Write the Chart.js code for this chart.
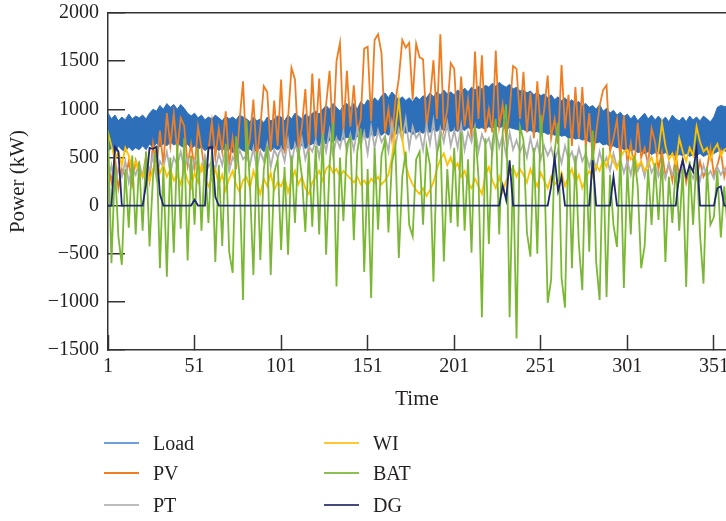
<!DOCTYPE html>
<html>
<head>
<meta charset="utf-8">
<script src="https://cdn.jsdelivr.net/npm/chart.js@4.4.1/dist/chart.umd.min.js"></script>
<style>
  html, body { margin: 0; padding: 0; background: #fff; }
  #wrap { position: relative; width: 726px; height: 521px; overflow: hidden; }
  #legend { position: absolute; left: 0; top: 0; font-family: "Liberation Serif", serif; font-size: 20px; color: #231f20; }
  .item { position: absolute; height: 24px; line-height: 24px; white-space: nowrap; }
  .item i { position: absolute; left: 0; top: 11px; width: 35px; height: 2px; }
  .item span { position: absolute; left: 49px; top: 0; }
</style>
</head>
<body>
<div id="wrap">
  <canvas id="chart" width="726" height="521"></canvas>
  <div id="legend"></div>
</div>
<script>
// one value every second day, starting at day 1
const firstDay = 1;
const dayStep = 2;

const xTicks = [1, 51, 101, 151, 201, 251, 301, 351];
const yTicks = [-1500, -1000, -500, 0, 500, 1000, 1500, 2000];

// load varies within the day, kept as daily max / min
const loadHigh = [
  960, 900, 940, 880, 920, 890, 950, 900, 930, 910,
  940, 900, 960, 1000, 980, 1040, 1000, 1060, 1020, 1050,
  1000, 1050, 1010, 960, 930, 960, 910, 940, 890, 920,
  900, 940, 910, 880, 930, 900, 920, 890, 940, 920,
  900, 870, 920, 880, 900, 860, 920, 880, 900, 930,
  920, 880, 940, 900, 960, 930, 900, 950, 920, 960,
  980, 950, 1000, 1040, 1000, 1060, 1020, 980, 1040, 1060,
  1020, 1060, 1000, 1080, 1040, 1100, 1060, 1120, 1080, 1140,
  1170, 1120, 1180, 1140, 1100, 1130, 1090, 1120, 1080, 1130,
  1100, 1140, 1120, 1170, 1130, 1180, 1150, 1200, 1160, 1180,
  1150, 1200, 1170, 1220, 1180, 1230, 1200, 1240, 1210, 1250,
  1230, 1270, 1240, 1280, 1250, 1230, 1260, 1210, 1230, 1190,
  1200, 1170, 1190, 1150, 1180, 1140, 1160, 1120, 1150, 1100,
  1130, 1090, 1120, 1070, 1100, 1060, 1080, 1040, 1060, 1020,
  1040, 1000, 1050, 980, 1010, 960, 990, 940, 970, 920,
  950, 900, 940, 880, 920, 960, 900, 940, 890, 930,
  880, 920, 870, 940, 900, 880, 920, 870, 930, 890,
  920, 880, 930, 900, 870, 920, 1020, 1040, 1030, 1030
];
const loadLow = [
  560, 600, 540, 620, 580, 560, 610, 570, 600, 580,
  620, 580, 640, 600, 650, 610, 640, 620, 660, 630,
  650, 620, 600, 640, 590, 620, 580, 610, 570, 600,
  580, 610, 570, 600, 560, 590, 550, 580, 600, 570,
  560, 590, 550, 580, 600, 560, 590, 570, 600, 580,
  600, 570, 610, 580, 620, 600, 630, 590, 620, 640,
  650, 620, 670, 640, 680, 660, 700, 670, 690, 710,
  700, 680, 720, 690, 730, 700, 740, 720, 750, 730,
  760, 730, 770, 740, 760, 780, 750, 770, 740, 760,
  770, 750, 780, 760, 790, 770, 800, 780, 790, 770,
  790, 770, 800, 780, 810, 790, 820, 800, 810, 790,
  820, 800, 830, 810, 820, 790, 810, 800, 790, 780,
  790, 770, 780, 760, 770, 750, 760, 740, 750, 730,
  740, 720, 730, 700, 710, 690, 700, 680, 690, 660,
  670, 650, 660, 630, 640, 610, 620, 600, 610, 580,
  590, 570, 580, 550, 560, 540, 560, 530, 550, 540,
  530, 550, 520, 540, 510, 530, 520, 540, 510, 530,
  520, 540, 510, 530, 520, 540, 560, 580, 570, 560
];
const pv = [
  420, 250, 500, 180, 380, 300, 460, 220, 470, 350,
  300, 520, 260, 640, 380, 780, 420, 960, 620, 950,
  560, 910, 830, 420, 640, 380, 820, 600, 320, 560,
  870, 500, 800, 560, 980, 420, 700, 380, 880, 1290,
  520, 700, 1100, 480, 820, 1240, 1180, 560, 1090, 620,
  1310, 540, 900, 1430, 1310, 600, 820, 1210, 560, 1370,
  700, 1320, 640, 1050, 1400, 700, 1500, 1690, 760, 1400,
  820, 1250, 760, 900, 1630, 1650, 880, 1720, 1780, 1580,
  760, 1000, 700, 1080, 1320, 1720, 1640, 1690, 1100, 1680,
  1540, 1520, 820, 1100, 1510, 900, 1780, 800, 1000, 1480,
  1420, 780, 1340, 820, 1100, 700, 1600, 900, 1560, 760,
  1000, 760, 1610, 820, 1050, 700, 980, 1450, 1420, 900,
  1390, 760, 1170, 700, 1290, 760, 1000, 1350, 700, 900,
  640, 1460, 800, 1150, 620, 1230, 700, 1230, 600, 960,
  480, 760, 1035, 1200, 1250, 560, 700, 890, 480, 940,
  420, 650, 380, 860, 500, 600, 420, 800, 660, 380,
  560, 300, 440, 260, 520, 300, 480, 240, 420, 360,
  280, 460, 300, 380, 600, 320, 420, 560, 300, 460
];
const pt = [
  260, 420, 180, 380, 300, 460, 240, 400, 320, 440,
  300, 480, 360, 520, 280, 460, 400, 560, 340, 500,
  420, 560, 380, 500, 300, 480, 420, 360, 520, 400,
  460, 380, 540, 420, 600, 360, 500, 440, 580, 480,
  520, 420, 600, 380, 560, 460, 640, 400, 580, 500,
  600, 460, 680, 420, 640, 520, 700, 480, 620, 560,
  680, 500, 720, 560, 780, 520, 700, 600, 760, 560,
  740, 580, 800, 620, 760, 540, 820, 600, 780, 660,
  720, 560, 860, 620, 800, 680, 900, 600, 820, 700,
  760, 580, 840, 640, 880, 560, 800, 660, 860, 620,
  780, 600, 840, 580, 760, 660, 820, 560, 740, 640,
  700, 540, 780, 600, 720, 520, 760, 580, 680, 560,
  640, 500, 700, 540, 660, 480, 620, 520, 600, 460,
  580, 440, 620, 480, 560, 420, 600, 460, 540, 400,
  520, 380, 560, 420, 500, 360, 540, 400, 480, 340,
  460, 320, 500, 360, 440, 300, 480, 340, 420, 300,
  400, 280, 440, 320, 380, 260, 420, 300, 360, 280,
  380, 260, 420, 300, 360, 280, 400, 320, 380, 300
];
const wi = [
  760, 620, 480, 560, 420, 600, 520, 380, 460, 340,
  300, 420, 260, 380, 460, 340, 420, 300, 380, 260,
  320, 220, 380, 260, 180, 340, 240, 420, 300, 200,
  280, 380, 220, 320, 160, 280, 360, 220, 140, 260,
  300, 180, 360, 240, 120, 280, 200, 340, 160, 240,
  200, 300, 140, 260, 360, 220, 300, 180, 120, 240,
  300, 360, 260, 380, 420, 340, 380, 300, 360, 320,
  280, 240, 300, 220, 260, 200, 280, 240, 300, 220,
  260, 320, 500, 780, 1100, 700, 420, 300, 220, 160,
  120, 180, 100, 160, 240, 380, 480, 540, 420, 500,
  380, 440, 300, 360, 240, 180, 280, 200, 120, 320,
  400, 260, 180, 300, 140, 260, 340, 400, 300, 380,
  320, 240, 380, 280, 200, 340, 260, 180, 300, 220,
  260, 340, 200, 300, 380, 240, 320, 180, 280, 360,
  300, 420, 360, 480, 400, 540, 460, 380, 500, 560,
  580, 480, 520, 400, 460, 360, 420, 500, 380, 560,
  860, 620, 480, 540, 420, 700, 560, 460, 600, 520,
  820, 660, 560, 600, 480, 580, 640, 520, 580, 600
];
const bat = [
  780, -600, 420, -320, -615, 380, -230, 520, -300, 460,
  -260, 560, -425, 300, 620, -650, 400, -740, 500, -490,
  640, -240, 700, -570, 520, -200, 600, -260, 480, -180,
  560, -585, 420, -420, 640, -480, -700, 720, 300, -980,
  890, 200, -720, 560, -565, 380, 620, -720, 340, 480,
  -460, 400, -510, 520, -180, 600, 300, -275, 560, -220,
  620, -300, 740, -510, 420, 860, -840, 500, -160, 640,
  710, -360, 560, 800, -690, 380, -960, 600, -250, 520,
  680, -280, 440, 620, -545, 300, 560, -200, -320, 480,
  560, -200, 610, 420, -790, 540, 700, -580, 380, -180,
  600, -220, 760, -260, 480, -490, 820, 300, -1160, 700,
  -400, 640, 900, -300, 760, 1050, -1160, 420, -1380, 820,
  680, -280, -530, 600, -500, 940, 420, -1010, -770, 560,
  860, -750, -1060, 700, -650, 520, -400, -880, 640, -480,
  780, -585, -980, 600, -950, 320, -200, -430, 560, -855,
  400, -300, 520, 200, -650, -420, 380, -200, 440, -150,
  500, -585, 300, -180, 420, -260, 380, -845, 460, -200,
  520, -300, -810, 400, -200, -120, 360, -330, 200, -250
];
const dg = [
  0, 0, 610, 560, 0, 0, 0, 0, 0, 0,
  0, 220, 600, 590, 610, 120, 0, 0, 0, 0,
  0, 0, 0, 0, 0, 60, 0, 0, 0, 600,
  610, 90, 0, 0, 0, 0, 0, 0, 0, 0,
  0, 0, 0, 0, 0, 0, 0, 0, 0, 0,
  0, 0, 0, 0, 0, 0, 0, 0, 0, 0,
  0, 0, 0, 0, 0, 0, 0, 0, 0, 0,
  0, 0, 0, 0, 0, 0, 0, 0, 0, 0,
  0, 0, 0, 0, 0, 0, 0, 0, 0, 0,
  0, 0, 0, 0, 0, 0, 0, 0, 0, 0,
  0, 0, 0, 0, 0, 0, 0, 0, 0, 0,
  0, 0, 0, 0, 210, 60, 470, 0, 0, 0,
  0, 0, 0, 0, 0, 0, 0, 0, 200, 500,
  150, 300, 0, 0, 0, 0, 0, 0, 0, 0,
  470, 0, 0, 0, 0, 0, 300, 0, 0, 0,
  0, 0, 0, 0, 0, 0, 0, 0, 0, 0,
  0, 0, 0, 0, 0, 330, 470, 300, 420, 350,
  600, 0, 0, 0, 0, 0, 180, 200, 0, 0
];

const colors = {
  load: '#2e6fba',
  pv: '#ef7d22',
  pt: '#b0b0b0',
  wi: '#ffc000',
  bat: '#7ab834',
  dg: '#1f2a6e'
};

const textColor = '#231f20';
const frameColor = '#333333';
const serif = '"Liberation Serif", "Times New Roman", serif';

const pts = arr => arr.map((v, i) => ({ x: firstDay + i * dayStep, y: v }));

function lineSet(label, values, color, order) {
  return {
    label: label,
    data: pts(values),
    borderColor: color,
    backgroundColor: color,
    borderWidth: 1.8,
    fill: false,
    order: order
  };
}

const datasets = [
  { label: 'Load min', data: pts(loadLow), borderColor: colors.load, borderWidth: 1, fill: false, order: 7 },
  { label: 'Load', data: pts(loadHigh), borderColor: colors.load, backgroundColor: colors.load, borderWidth: 1, fill: '-1', order: 6 },
  lineSet('PV', pv, colors.pv, 5),
  lineSet('PT', pt, colors.pt, 4),
  lineSet('WI', wi, colors.wi, 3),
  lineSet('BAT', bat, colors.bat, 2),
  lineSet('DG', dg, colors.dg, 1)
];

new Chart(document.getElementById('chart'), {
  type: 'line',
  data: { datasets: datasets },
  options: {
    responsive: false,
    animation: false,
    elements: { point: { radius: 0 }, line: { tension: 0 } },
    layout: { padding: { top: 13, right: 0, bottom: 106, left: 0 } },
    plugins: { legend: { display: false }, tooltip: { enabled: false } },
    scales: {
      x: {
        type: 'linear',
        min: 1,
        max: 358,
        z: 1,
        afterBuildTicks: s => { s.ticks = xTicks.map(v => ({ value: v })); },
        afterFit: s => { s.height = 65; s.paddingLeft = 0; s.paddingRight = 0; },
        grid: { drawOnChartArea: false, tickLength: -15, tickColor: frameColor, tickWidth: 1.5 },
        border: { color: frameColor, width: 1.5 },
        ticks: { padding: 20, color: textColor, font: { family: serif, size: 20 }, maxRotation: 0 },
        title: { display: true, text: 'Time', color: textColor, font: { family: serif, size: 21 }, padding: { top: 4, bottom: 3 } }
      },
      y: {
        min: -1500,
        max: 2000,
        z: 1,
        afterBuildTicks: s => { s.ticks = yTicks.map(v => ({ value: v })); },
        afterFit: s => { s.width = 108; s.paddingTop = 0; s.paddingBottom = 0; },
        grid: {
          color: c => (c.tick && c.tick.value === 2000) ? frameColor : 'rgba(0,0,0,0)',
          lineWidth: 1.5,
          tickLength: -17,
          tickColor: frameColor,
          tickWidth: 1.5
        },
        border: { color: frameColor, width: 1.5 },
        ticks: {
          padding: 26,
          color: textColor,
          font: { family: serif, size: 20 },
          callback: v => v < 0 ? '\u2212' + Math.abs(v) : String(v)
        },
        title: { display: true, text: 'Power (kW)', color: textColor, font: { family: serif, size: 21 }, padding: { top: 6, bottom: 4 } }
      }
    }
  }
});

// legend in two columns below the plot
const legendItems = [
  { label: 'Load', color: '#6f9fd8', x: 104, y: 443 },
  { label: 'PV', color: colors.pv, x: 104, y: 473 },
  { label: 'PT', color: '#bdbdbd', x: 104, y: 505 },
  { label: 'WI', color: '#ffc630', x: 324, y: 443 },
  { label: 'BAT', color: '#8cc152', x: 324, y: 473 },
  { label: 'DG', color: '#444a7a', x: 324, y: 505 }
];
const legend = document.getElementById('legend');
legendItems.forEach(item => {
  const el = document.createElement('div');
  el.className = 'item';
  el.style.left = item.x + 'px';
  el.style.top = (item.y - 12) + 'px';
  el.innerHTML = '<i style="background:' + item.color + '"></i><span>' + item.label + '</span>';
  legend.appendChild(el);
});
</script>
</body>
</html>
